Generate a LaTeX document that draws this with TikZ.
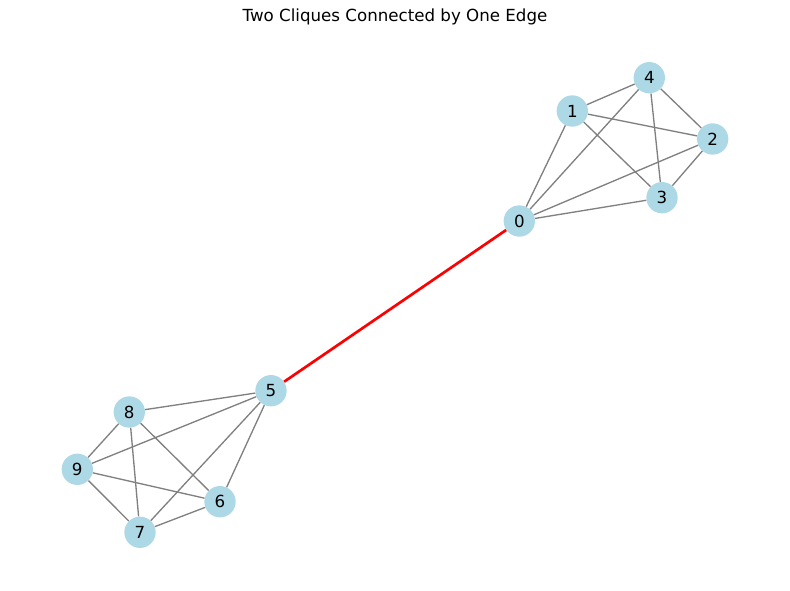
\documentclass[tikz,border=0pt]{standalone}
\usepackage{fontspec}
\setmainfont{DejaVu Sans}
\usepackage{tikz}
\usepackage{xcolor}
\definecolor{nodeblue}{HTML}{ADD8E6}
\definecolor{edgegray}{HTML}{808080}
\tikzset{
  vertex/.style = {circle, fill = nodeblue, inner sep = 0pt, minimum size = 23.5pt, font = \fontsize{12.5}{14}\selectfont},
  edge/.style = {draw = edgegray, line width = 1pt},
  bridge/.style = {draw = red, line width = 2pt}
}

\begin{document}
\begin{tikzpicture}[x = 0.75pt, y = -0.75pt]

        \useasboundingbox (0, 0) rectangle (790, 590);

        \node [font = \fontsize{12.5}{14}\selectfont] (title) at (395, 17) {Two Cliques Connected by One Edge};

        % first clique
        \node [vertex] (n0) at (519.3, 221) {0};
        \node [vertex] (n1) at (572.3, 111) {1};
        \node [vertex] (n2) at (712.7, 139) {2};
        \node [vertex] (n3) at (662, 197.7) {3};
        \node [vertex] (n4) at (649.3, 77.7) {4};

        % second clique
        \node [vertex] (n5) at (271, 390.7) {5};
        \node [vertex] (n6) at (220, 501.7) {6};
        \node [vertex] (n7) at (140, 532.3) {7};
        \node [vertex] (n8) at (129.3, 412) {8};
        \node [vertex] (n9) at (77.3, 469.3) {9};

        % Clique Edges
        \foreach \a/\b in {0/1, 0/2, 0/3, 0/4, 1/2, 1/3, 1/4, 2/3, 2/4, 3/4,
                           5/6, 5/7, 5/8, 5/9, 6/7, 6/8, 6/9, 7/8, 7/9, 8/9}
            \draw [edge] (n\a) -- (n\b);

        % Connecting Edge
        \draw [bridge] (n0) -- (n5);

    \end{tikzpicture}
\end{document}
